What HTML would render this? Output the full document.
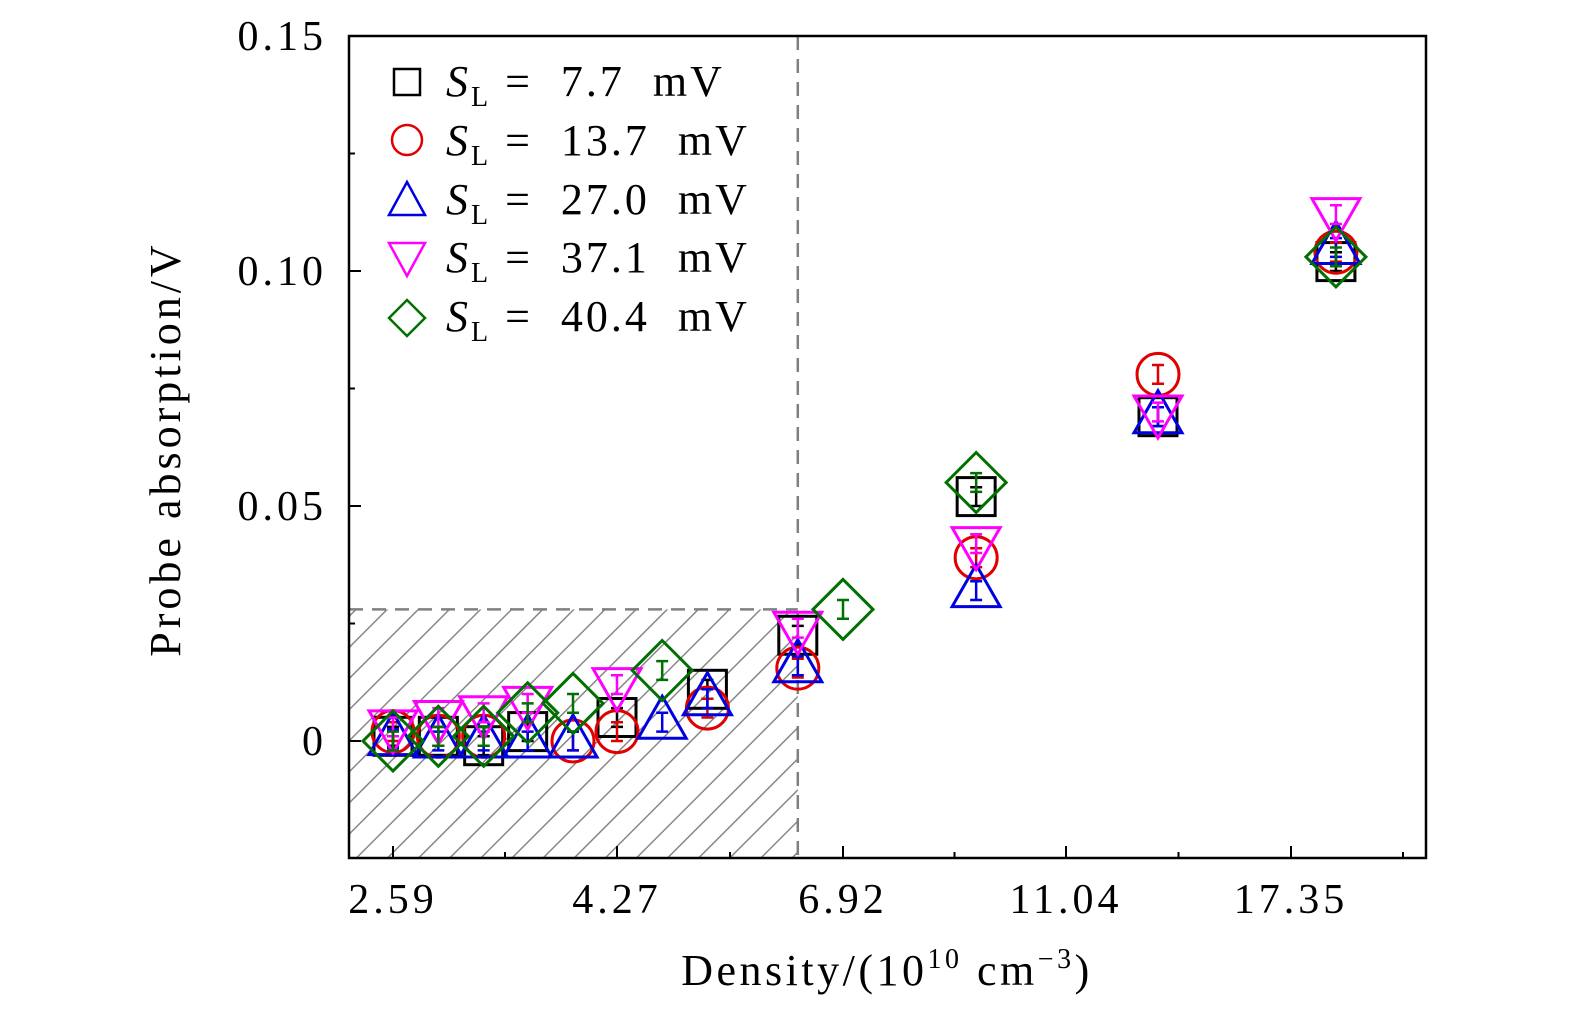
<!DOCTYPE html>
<html><head><meta charset="utf-8">
<style>
html,body{margin:0;padding:0;background:#fff;}
svg text{font-family:"Liberation Serif",serif;}
</style></head>
<body>
<svg id="chart" width="1575" height="1014" xmlns="http://www.w3.org/2000/svg">
<defs>
<pattern id="hatch" patternUnits="userSpaceOnUse" width="22" height="22" patternTransform="rotate(45)">
<line x1="0" y1="0" x2="0" y2="22" stroke="#808080" stroke-width="2.8"/>
</pattern>
<clipPath id="plotclip"><rect x="349" y="36" width="1077" height="822"/></clipPath>
</defs>
<g id="hatchlayer"></g>
<g id="marks" clip-path="url(#plotclip)"></g>
<g id="axes"></g>
</svg>
<script>
const tickLabels = ["2.59","4.27","6.92","11.04","17.35"];
const tickValues = [2.59,4.27,6.92,11.04,17.35];
const yTicks = [0,0.05,0.10,0.15];
const yTickLabels = ["0","0.05","0.10","0.15"];
const seriesNames = ["7.7","13.7","27.0","37.1","40.4"];
const xBlack = [2.59,2.93,3.27,3.60,4.27,5.33,6.39,9.38,13.62,18.61];
const yBlack = [0.001,0.001,-0.001,0.002,0.005,0.011,0.0225,0.052,0.069,0.102];
const xRed = [2.59,2.93,3.27,3.94,4.27,5.33,6.39,9.38,13.62,18.61];
const yRed = [0.002,0.001,0.001,0.0,0.002,0.007,0.0155,0.039,0.078,0.104];
const xBlue = [2.59,2.93,3.27,3.60,3.94,4.80,5.33,6.39,9.38,13.62,18.61];
const yBlue = [0.0005,0.0,0.0,0.0,0.0,0.004,0.009,0.016,0.032,0.069,0.105];
const xMag = [2.59,2.93,3.27,3.60,4.27,6.39,9.38,13.62,18.61];
const yMag = [0.003,0.005,0.006,0.008,0.012,0.024,0.042,0.07,0.112];
const xGreen = [2.59,2.93,3.27,3.60,3.94,4.80,6.92,9.38,18.61];
const yGreen = [0.0,0.001,0.001,0.006,0.008,0.015,0.028,0.055,0.103];
const errBar = 0.002;
const shadeX = 6.39, shadeY = 0.028;

const NS="http://www.w3.org/2000/svg";
const tickPx=[393,617,843,1066,1291];
function xScale(d){
  let i=0;
  if(d>=tickValues[tickValues.length-1]) i=tickValues.length-2;
  else { while(i<tickValues.length-2 && d>tickValues[i+1]) i++; }
  const t=(d-tickValues[i])/(tickValues[i+1]-tickValues[i]);
  return tickPx[i]+t*(tickPx[i+1]-tickPx[i]);
}
function yScale(v){return 741 - v*4700;}
function mk(tag,attrs,parent){const e=document.createElementNS(NS,tag);for(const k in attrs)e.setAttribute(k,attrs[k]);parent.appendChild(e);return e;}

const hl=document.getElementById('hatchlayer');
const sx=xScale(shadeX), sy=yScale(shadeY);
let hr=mk('rect',{x:349,y:sy,width:sx-349,height:858-sy,fill:'url(#hatch)'},hl);


let hb=mk('path',{d:`M349 ${sy} H${sx}`,stroke:'#808080','stroke-width':2.5,'stroke-dasharray':'14 9',fill:'none'},hl);


let vl=mk('line',{x1:sx,y1:36,x2:sx,y2:858,stroke:'#808080','stroke-width':2.5,'stroke-dasharray':'14 9'},hl);



const marks=document.getElementById('marks');
function marker(type,cx,cy,color,parent){
  let e;
  if(type==='square') e=mk('rect',{x:cx-19,y:cy-19,width:38,height:38},parent);
  else if(type==='circle') e=mk('circle',{cx:cx,cy:cy,r:21},parent);
  else if(type==='up') e=mk('polygon',{points:`${cx},${cy-26} ${cx-24},${cy+16} ${cx+24},${cy+16}`},parent);
  else if(type==='down') e=mk('polygon',{points:`${cx},${cy+26} ${cx-24},${cy-16} ${cx+24},${cy-16}`},parent);
  else e=mk('polygon',{points:`${cx},${cy-30} ${cx+30},${cy} ${cx},${cy+30} ${cx-30},${cy}`},parent);
  e.setAttribute('fill','none');e.setAttribute('stroke',color);e.setAttribute('stroke-width',3);
  return e;
}
const series=[
 {xs:xBlack,ys:yBlack,c:'#000',t:'square'},
 {xs:xRed,ys:yRed,c:'#e00000',t:'circle'},
 {xs:xBlue,ys:yBlue,c:'#0000e0',t:'up'},
 {xs:xMag,ys:yMag,c:'#ff00ff',t:'down'},
 {xs:xGreen,ys:yGreen,c:'#007000',t:'diamond'}];
series.forEach((s,si)=>{
  const g=mk('g',{},marks);
  
  
  s.xs.forEach((xv,i)=>{
    const cx=xScale(xv), cy=yScale(s.ys[i]);
    const m=marker(s.t,cx,cy,s.c,g);
    
    
    const y1=yScale(s.ys[i]+errBar), y2=yScale(s.ys[i]-errBar);
    const eb=mk('path',{d:`M${cx} ${y1} V${y2} M${cx-6} ${y1} H${cx+6} M${cx-6} ${y2} H${cx+6}`,stroke:s.c,'stroke-width':2.5,fill:'none'},g);
    
    
  });
});

const ax=document.getElementById('axes');
let fr=mk('rect',{x:349,y:36,width:1077,height:822,fill:'none',stroke:'#000','stroke-width':2.5},ax);


yTicks.forEach((v,i)=>{
  const y=yScale(v);
  let t=mk('line',{x1:349,y1:y,x2:361,y2:y,stroke:'#000','stroke-width':2},ax);
  
  
  let l=mk('text',{x:327,y:y+14,'text-anchor':'end','font-size':42,'letter-spacing':4},ax);
  l.textContent=yTickLabels[i];
  
  
  if(i<yTicks.length-1){
    const ym=yScale(v+0.025);
    let m=mk('line',{x1:349,y1:ym,x2:355,y2:ym,stroke:'#000','stroke-width':2},ax);
    
    
  }
});
tickValues.forEach((v,i)=>{
  const x=xScale(v);
  let t=mk('line',{x1:x,y1:858,x2:x,y2:846,stroke:'#000','stroke-width':2},ax);
  
  
  let l=mk('text',{x:x,y:913,'text-anchor':'middle','font-size':42,'letter-spacing':4},ax);
  l.textContent=tickLabels[i];
  
  
  const xm=x+ (i<tickValues.length-1 ? (xScale(tickValues[i+1])-x)/2 : 112);
  let m=mk('line',{x1:xm,y1:858,x2:xm,y2:852,stroke:'#000','stroke-width':2},ax);
  
  
});
</script>
<svg style="position:absolute;left:0;top:0" width="1575" height="1014" xmlns="http://www.w3.org/2000/svg">
<text x="887" y="985" text-anchor="middle" font-size="44" letter-spacing="3.5" font-family="Liberation Serif, serif">Density/(10<tspan font-size="28" dy="-17">10</tspan><tspan dy="17"> cm</tspan><tspan font-size="28" dy="-17">−3</tspan><tspan dy="17">)</tspan></text>
<text transform="translate(180,449) rotate(-90)" text-anchor="middle" font-size="44" letter-spacing="4" font-family="Liberation Serif, serif">Probe absorption/V</text>
<g font-family="Liberation Serif, serif" font-size="44" letter-spacing="3">
<rect x="394" y="69" width="26" height="26" fill="none" stroke="#000" stroke-width="2.5"/>
<text x="446" y="96" xml:space="preserve"><tspan font-style="italic">S</tspan><tspan font-size="28" dy="10">L</tspan><tspan dy="-10"> =  7.7  mV</tspan></text>
<circle cx="407" cy="140" r="15" fill="none" stroke="#e00000" stroke-width="2.5"/>
<text x="446" y="155" xml:space="preserve"><tspan font-style="italic">S</tspan><tspan font-size="28" dy="10">L</tspan><tspan dy="-10"> =  13.7  mV</tspan></text>
<polygon points="407,182 389,215 425,215" fill="none" stroke="#0000e0" stroke-width="2.5"/>
<text x="446" y="214" xml:space="preserve"><tspan font-style="italic">S</tspan><tspan font-size="28" dy="10">L</tspan><tspan dy="-10"> =  27.0  mV</tspan></text>
<polygon points="407,276 389,243 425,243" fill="none" stroke="#ff00ff" stroke-width="2.5"/>
<text x="446" y="272" xml:space="preserve"><tspan font-style="italic">S</tspan><tspan font-size="28" dy="10">L</tspan><tspan dy="-10"> =  37.1  mV</tspan></text>
<polygon points="407,300 425,318 407,336 389,318" fill="none" stroke="#007000" stroke-width="2.5"/>
<text x="446" y="331" xml:space="preserve"><tspan font-style="italic">S</tspan><tspan font-size="28" dy="10">L</tspan><tspan dy="-10"> =  40.4  mV</tspan></text>
</g>
</svg>
</body></html>
